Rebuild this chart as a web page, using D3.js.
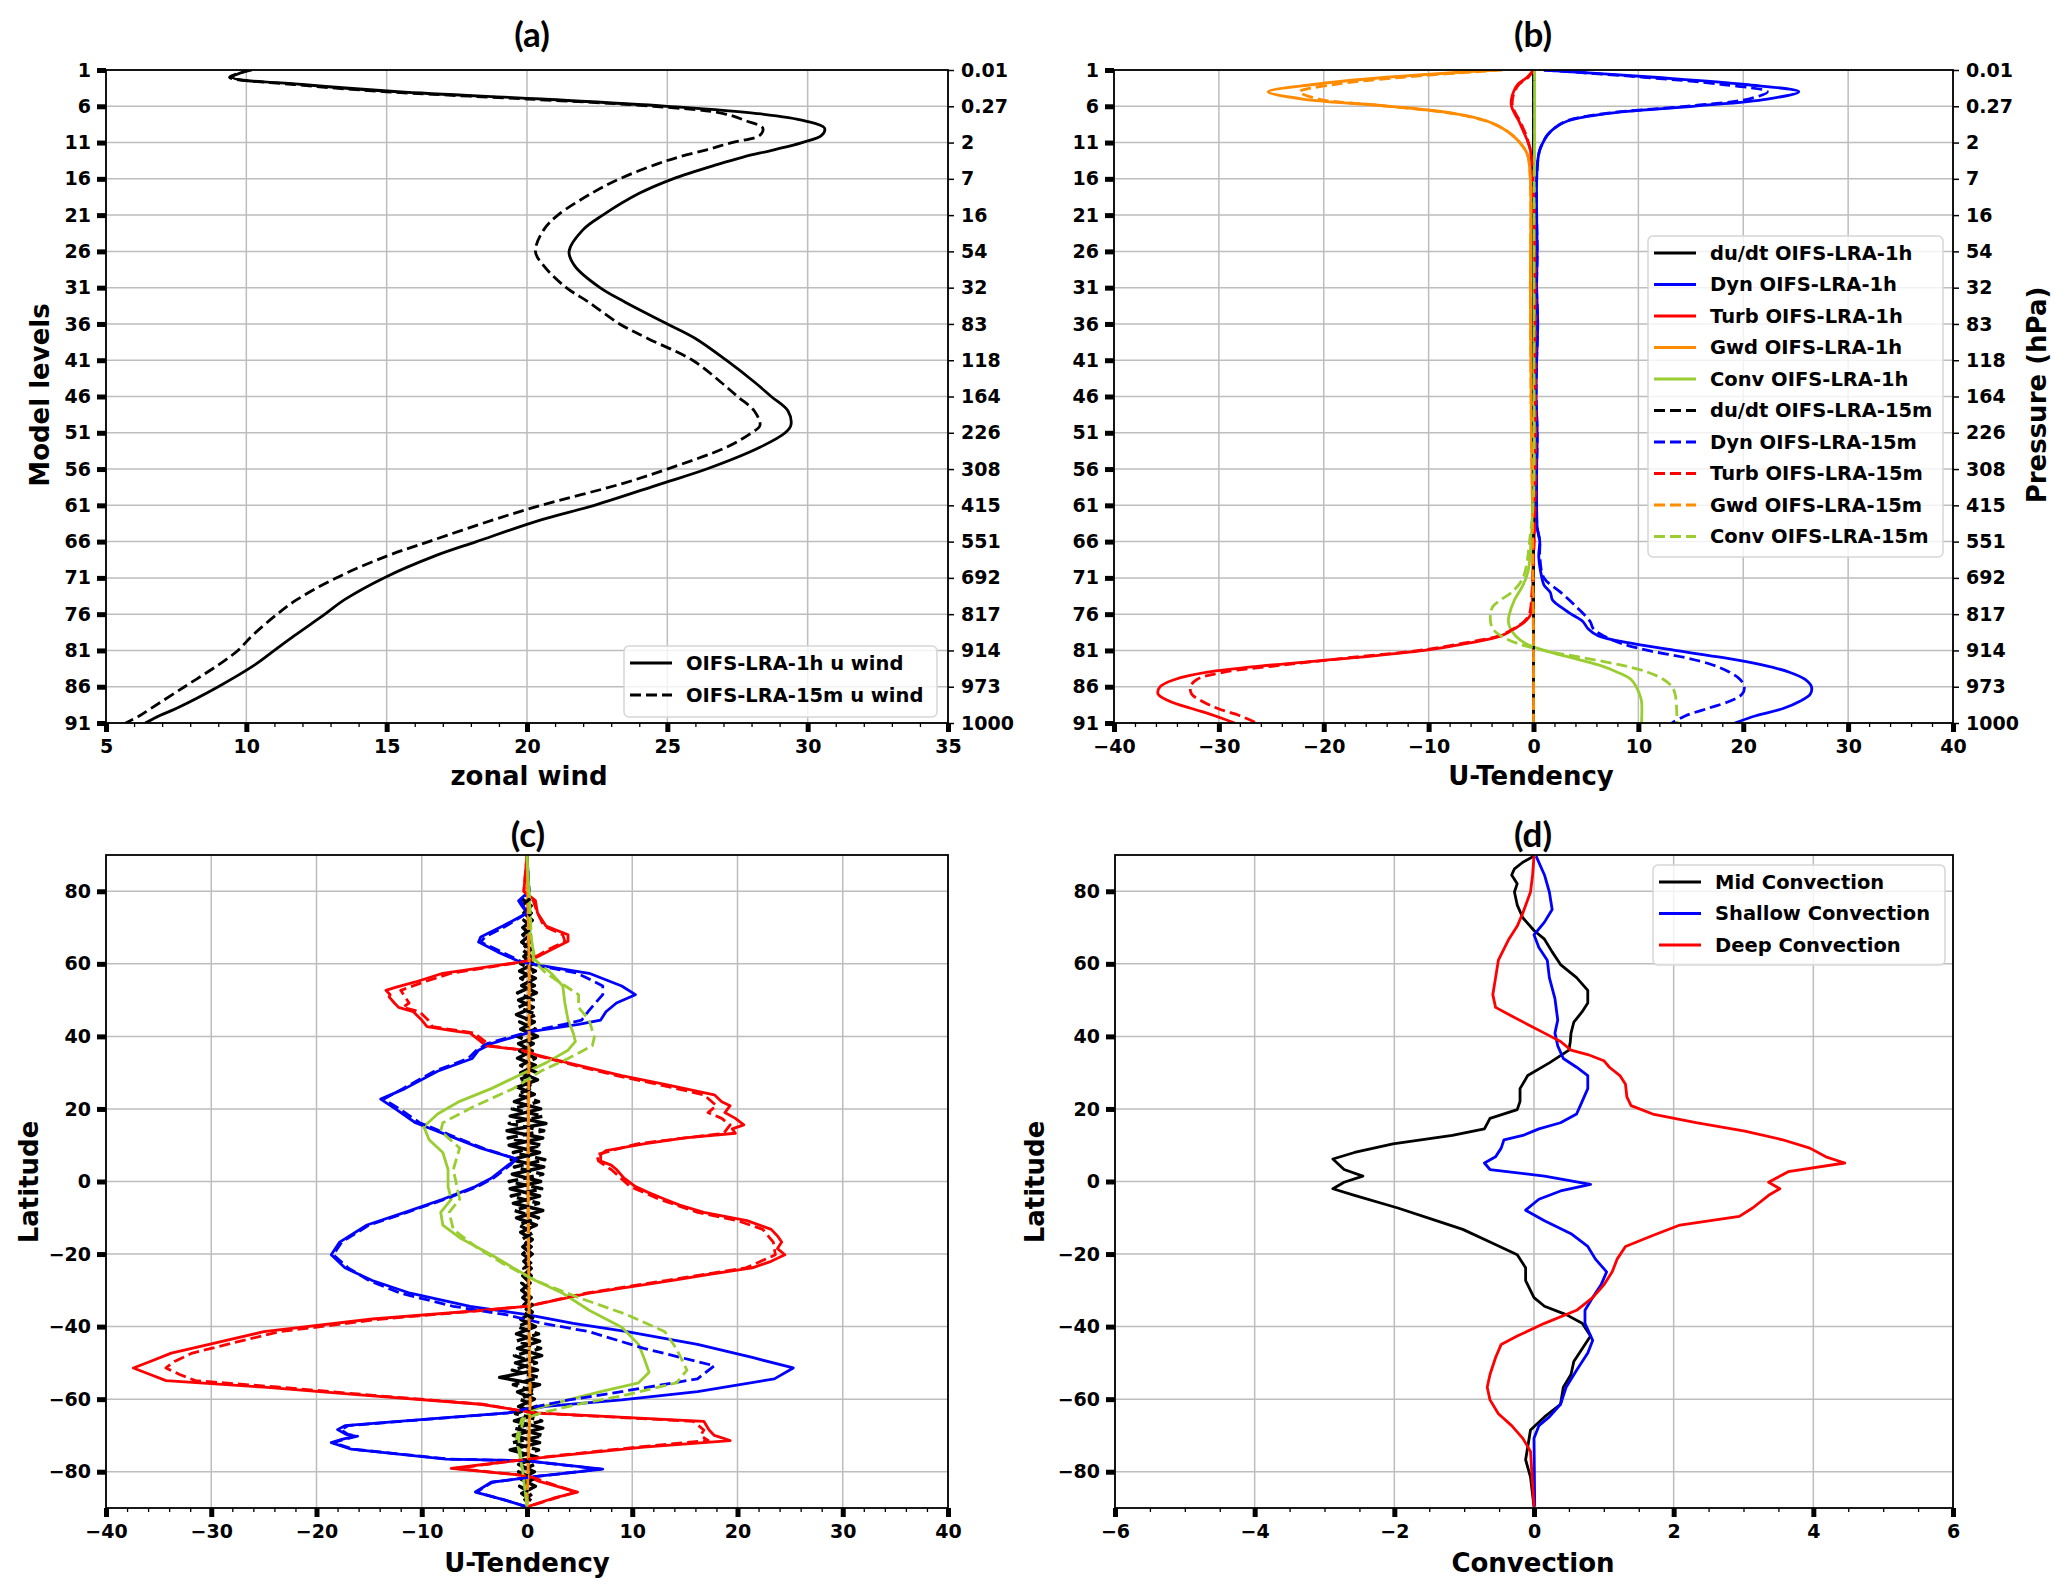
<!DOCTYPE html>
<html lang="en">
<head>
<meta charset="UTF-8">
<title>Zonal wind and U-tendency profiles</title>
<script src="https://d3js.org/d3.v7.min.js"></script>
<style>
  body { margin: 0; background: #fff; }
  text { font-family: "DejaVu Sans", sans-serif; font-weight: bold; fill: #000; }
  .tick text { font-size: 19px; }
  .grid line { stroke: #bdbdbd; stroke-width: 1.5; }
  .axis-title { font-size: 26px; }
  .panel-title { font-family: Lato, "Open Sans", sans-serif; font-size: 35px; }
  .legend text { font-size: 19.5px; }
</style>
</head>
<body>
<svg width="2067" height="1595"></svg>
<script>
// ---------- tick labels ----------
const levelTicks = [1, 6, 11, 16, 21, 26, 31, 36, 41, 46, 51, 56, 61, 66, 71, 76, 81, 86, 91];
const pressureLabels = ["0.01", "0.27", "2", "7", "16", "54", "32", "83", "118", "164",
                        "226", "308", "415", "551", "692", "817", "914", "973", "1000"];
const latTicks = [-80, -60, -40, -20, 0, 20, 40, 60, 80];

// ---------- (a) zonal wind vs model level ----------
const levA = [1, 2, 3, 4, 5, 6, 7, 8, 9, 10, 11, 12, 13, 14, 16, 18, 21, 23, 26, 28, 31, 33, 36, 38, 41, 44,
              46, 48, 50, 51, 53, 56, 58, 61, 63, 66, 68, 71, 74, 76, 79, 81, 83, 86, 89, 90, 91];
const uWind1h = [10.1, 9.5, 12.0, 15.4, 20.5, 25.0, 28.2, 29.9, 30.6, 30.5, 29.8, 28.8, 27.7, 26.8, 25.2, 24.0,
                 22.7, 22.0, 21.5, 21.7, 22.6, 23.5, 25.0, 26.0, 27.1, 28.1, 28.7, 29.3, 29.4, 29.2, 28.3, 26.4,
                 24.8, 22.4, 20.5, 18.2, 16.7, 14.9, 13.5, 12.8, 11.7, 11.0, 10.3, 9.0, 7.5, 6.9, 6.4];
const uWind15m = [10.2, 9.4, 11.7, 15.0, 20.0, 24.5, 27.0, 27.8, 28.4, 28.3, 27.3, 26.4, 25.4, 24.6, 23.3, 22.3,
                  21.1, 20.6, 20.3, 20.6, 21.4, 22.2, 23.3, 24.3, 25.9, 26.9, 27.5, 28.1, 28.3, 28.0, 27.1, 25.0,
                  23.4, 20.5, 18.8, 16.5, 15.0, 13.2, 11.8, 11.1, 10.2, 9.7, 9.0, 7.8, 6.6, 6.2, 5.7];

// ---------- (b) u-tendency vs model level, [level, value] ----------
const dudt1hB = [[1, 0], [91, 0]];
const dudt15mB = [[1, 0], [91, 0]];
const dyn1hB = [[1, 1.0], [2, 11.5], [3, 20.2], [4, 25.3], [5, 22.3], [6, 15.2], [7, 7.0], [8, 3.3], [9, 2.0],
  [10, 1.3], [11, 0.9], [12, 0.6], [13, 0.45], [16, 0.3], [21, 0.3], [26, 0.35], [31, 0.3], [36, 0.4], [41, 0.3],
  [46, 0.25], [51, 0.35], [56, 0.3], [61, 0.3], [64, 0.35], [66, 0.6], [68, 0.5], [71, 0.8], [72, 1.0], [73, 1.6],
  [74, 1.8], [75, 2.6], [76, 3.6], [77, 4.7], [78, 5.2], [79, 6.2], [80, 9.3], [81, 13.5], [82, 18.1], [83, 21.8],
  [84, 24.4], [85, 25.9], [86, 26.5], [87, 26.4], [88, 25.4], [89, 23.8], [90, 21.2], [91, 19.2]];
const dyn15mB = [[1, 1.0], [2, 10.5], [3, 18.0], [4, 22.3], [5, 20.5], [6, 14.5], [7, 6.8], [8, 3.2], [9, 2.0],
  [10, 1.3], [11, 0.9], [12, 0.6], [13, 0.45], [16, 0.3], [21, 0.3], [26, 0.35], [31, 0.3], [36, 0.4], [41, 0.3],
  [46, 0.25], [51, 0.35], [56, 0.3], [61, 0.3], [64, 0.35], [66, 0.6], [68, 0.6], [71, 1.0], [73, 2.6], [75, 4.1],
  [77, 5.4], [78, 5.7], [79, 6.7], [80, 8.3], [81, 10.9], [82, 14.5], [83, 17.1], [84, 18.7], [85, 19.7],
  [86, 20.1], [87, 19.9], [88, 18.7], [89, 16.6], [90, 14.5], [91, 13.2]];
const turb1hB = [[1, 0], [2, -0.6], [3, -1.5], [4, -1.9], [5, -2.1], [6, -2.1], [7, -1.8], [8, -1.4], [9, -1.1],
  [10, -0.8], [11, -0.5], [12, -0.3], [14, -0.15], [20, 0.05], [30, 0.15], [40, 0.15], [50, 0.2], [60, 0.15],
  [66, 0.05], [70, -0.05], [73, -0.1], [76, -0.26], [77, -0.8], [78, -1.8], [79, -3.1], [80, -6.2], [81, -10.4],
  [82, -17.1], [83, -24.9], [84, -31.1], [85, -34.2], [86, -35.6], [87, -35.8], [88, -34.7], [89, -32.6],
  [90, -30.4], [91, -28.5]];
const turb15mB = [[1, 0], [2, -0.5], [3, -1.4], [4, -1.8], [5, -2.0], [6, -2.0], [7, -1.7], [8, -1.3], [9, -1.0],
  [10, -0.7], [11, -0.5], [12, -0.3], [14, -0.15], [20, 0.05], [30, 0.15], [40, 0.15], [50, 0.2], [60, 0.15],
  [66, 0.05], [70, -0.05], [73, -0.15], [76, -0.4], [77, -0.9], [78, -1.9], [79, -3.3], [80, -6.7], [81, -10.9],
  [82, -17.6], [83, -23.8], [84, -29.5], [85, -32.1], [86, -32.7], [87, -32.6], [88, -31.6], [89, -30.1],
  [90, -28.0], [91, -26.4]];
const gwd1hB = [[1, -3.5], [2, -14.0], [3, -21.0], [4, -25.3], [5, -22.0], [6, -13.7], [7, -7.5], [8, -4.5],
  [9, -3.0], [10, -2.0], [11, -1.3], [12, -0.8], [13, -0.5], [16, -0.3], [21, -0.25], [31, -0.3], [41, -0.25],
  [51, -0.2], [61, -0.1], [71, -0.05], [81, 0], [91, 0]];
const gwd15mB = [[1, -3.0], [2, -12.5], [3, -19.0], [4, -22.3], [5, -20.5], [6, -13.8], [7, -7.6], [8, -4.6],
  [9, -3.0], [10, -2.0], [11, -1.3], [12, -0.8], [13, -0.5], [16, -0.3], [21, -0.25], [31, -0.3], [41, -0.25],
  [51, -0.2], [61, -0.1], [71, -0.05], [81, 0], [91, 0]];
const conv1hB = [[1, 0.1], [10, 0.1], [20, 0.05], [40, 0.05], [60, 0], [65, -0.2], [70, -0.5], [72, -1.0],
  [74, -1.8], [76, -2.3], [77, -2.4], [78, -2.2], [79, -1.7], [80, -0.8], [81, 1.0], [82, 3.6], [83, 6.2],
  [84, 8.0], [85, 9.3], [86, 9.8], [87, 10.1], [88, 10.3], [91, 10.3]];
const conv15mB = [[1, 0.1], [10, 0.1], [20, 0.05], [40, 0.05], [60, 0], [65, -0.3], [71, -1.0], [73, -2.1],
  [74, -3.1], [75, -3.9], [76, -4.1], [77, -4.1], [78, -3.9], [79, -3.1], [80, -1.6], [81, 1.0], [82, 4.7],
  [83, 8.3], [84, 10.9], [85, 12.4], [86, 13.2], [87, 13.5], [88, 13.6], [91, 13.7]];

// ---------- (c) u-tendency vs latitude, [lat, value] ----------
const dudt1hC = [[78, -0.5], [76, 0.4], [74, -0.3], [72, 0.5], [70, -0.4], [68, 0.3], [66, -0.5], [64, 0.4],
  [62, -0.3], [60, 0.6], [58, -0.7], [56, 0.8], [54, -0.5], [52, 0.9], [50, -0.8], [48, 0.6], [46, -1.0],
  [44, 0.7], [42, -0.6], [40, 1.0], [38, -0.8], [36, 0.5], [34, -0.9], [32, 0.8], [30, -0.6], [28, 1.0],
  [26, -0.9], [24, 0.7], [22, -1.2], [20, 1.3], [18, -1.6], [16, 1.8], [14, -1.9], [12, 1.5], [10, -1.7],
  [8, 1.2], [6, -1.5], [4, 1.6], [2, -1.4], [0, 1.3], [-2, -1.6], [-4, 1.2], [-6, -1.3], [-8, 1.5], [-10, -1.0],
  [-12, 0.9], [-14, -0.6], [-16, 0.5], [-18, -0.4], [-20, 0.5], [-22, -0.3], [-24, 0.4], [-26, -0.4],
  [-28, 0.3], [-30, -0.5], [-32, 0.4], [-34, -0.3], [-36, 0.5], [-38, -0.6], [-40, 0.8], [-42, -1.0],
  [-44, 1.2], [-46, -0.9], [-48, 1.4], [-50, -1.1], [-52, 1.0], [-54, -2.6], [-56, 1.2], [-58, -0.9],
  [-60, 0.7], [-62, -0.8], [-64, 1.0], [-66, -1.2], [-68, 1.5], [-70, -1.3], [-72, 1.2], [-74, -1.6],
  [-76, 1.0], [-78, -0.8], [-80, 0.7], [-82, -0.6], [-84, 0.8], [-86, -0.5], [-88, 0.4]];
const dudt15mC = [[78, 0.3], [76, -0.5], [74, 0.4], [72, -0.3], [70, 0.5], [68, -0.4], [66, 0.3], [64, -0.5],
  [62, 0.4], [60, -0.6], [58, 0.8], [56, -0.6], [54, 0.7], [52, -0.9], [50, 0.6], [48, -0.8], [46, 0.9],
  [44, -0.7], [42, 0.8], [40, -0.9], [38, 0.6], [36, -0.7], [34, 0.8], [32, -0.6], [30, 0.9], [28, -0.8],
  [26, 0.6], [24, -0.9], [22, 1.1], [20, -1.4], [18, 1.5], [16, -1.7], [14, 1.6], [12, -1.8], [10, 1.4],
  [8, -1.3], [6, 1.7], [4, -1.2], [2, 1.5], [0, -1.7], [-2, 1.4], [-4, -1.5], [-6, 1.1], [-8, -1.2], [-10, 1.1],
  [-12, -0.8], [-14, 0.6], [-16, -0.5], [-18, 0.4], [-20, -0.4], [-22, 0.5], [-24, -0.3], [-26, 0.4],
  [-28, -0.5], [-30, 0.3], [-32, -0.4], [-34, 0.5], [-36, -0.4], [-38, 0.7], [-40, -0.9], [-42, 1.1],
  [-44, -1.0], [-46, 1.3], [-48, -1.2], [-50, 0.9], [-52, -1.4], [-54, 1.1], [-56, -1.3], [-58, 0.8],
  [-60, -0.7], [-62, 0.9], [-64, -1.1], [-66, 1.4], [-68, -1.2], [-70, 1.5], [-72, -1.4], [-74, 1.1],
  [-76, -0.9], [-78, 0.7], [-80, -0.8], [-82, 0.6], [-84, -0.7], [-86, 0.5], [-88, -0.3]];
const dyn1hC = [[90, 0], [80, 0.2], [77.4, -0.8], [76, -0.5], [74, 0], [70.4, -2.3], [67.4, -4.4], [66, -4.6],
  [63.3, -2.8], [60.7, -0.8], [59.8, 0.8], [57.4, 5.9], [53.9, 9.0], [51.5, 10.3], [49.2, 8.5], [46.8, 7.5],
  [44.5, 7.0], [43.3, 4.9], [41.5, 0.8], [39.8, -1.3], [38, -3.4], [36.2, -4.6], [33.9, -5.2], [30.4, -8.5],
  [25.6, -11.6], [22.7, -13.9], [19.8, -12.4], [16.2, -10.6], [12.7, -7.5], [9.2, -4.4], [6.2, -1.0],
  [4.5, -1.8], [0.9, -3.4], [-1.4, -4.9], [-4.9, -8.0], [-8.5, -11.6], [-12, -15.2], [-16.7, -17.8],
  [-20.2, -18.6], [-23.8, -17.3], [-27.3, -14.7], [-30.8, -11.1], [-34.4, -5.4], [-36.7, 0], [-39.1, 4.4],
  [-41.4, 9.5], [-44.9, 16.2], [-48.5, 21.4], [-51.4, 25.3], [-54.4, 23.5], [-57.9, 16.2], [-60.2, 9.0],
  [-62, 1.8], [-63.8, -1.8], [-65.5, -9.5], [-67.3, -17.3], [-68.4, -18.0], [-69.7, -17.2], [-70.2, -16.3],
  [-71.1, -17.6], [-72, -18.6], [-73.8, -16.7], [-76.5, -7.7], [-77, 0], [-79.3, 7.2], [-81.3, 0.9],
  [-82.9, -3.4], [-85.6, -4.9], [-87.9, -2.0], [-89.7, 0]];
const dyn15mC = [[90, 0], [80, 0.2], [77.4, -0.6], [74, 0], [70.4, -2.0], [67.4, -4.0], [66, -4.4], [63.3, -2.4],
  [60.7, -0.6], [59.8, 0.6], [57.4, 4.8], [53.9, 7.2], [51.5, 7.2], [49.2, 6.5], [46.8, 5.8], [44.5, 5.2],
  [43.3, 3.5], [41.5, 0.5], [39.8, -1.6], [38, -3.8], [36.2, -4.8], [33.9, -5.6], [30.4, -8.8], [25.6, -11.8],
  [22.7, -13.6], [19.8, -12.0], [16.2, -10.2], [12.7, -7.2], [9.2, -4.2], [6.2, -1.0], [4.5, -1.6], [0.9, -3.2],
  [-1.4, -4.7], [-4.9, -7.8], [-8.5, -11.4], [-12, -15.0], [-16.7, -17.6], [-20.2, -18.4], [-23.8, -17.0],
  [-27.3, -15.0], [-30.8, -12.0], [-34.4, -7.0], [-36.7, -2.0], [-39.1, 1.5], [-41.4, 5.9], [-46, 11.1],
  [-50.8, 17.8], [-54.4, 16.2], [-57.9, 9.0], [-60.2, 4.0], [-62, 1.0], [-63.8, -1.8], [-65.5, -9.3],
  [-67.3, -17.0], [-68.4, -17.7], [-69.7, -17.0], [-70.2, -16.1], [-71.1, -17.4], [-72, -18.4], [-73.8, -16.5],
  [-76.5, -7.5], [-77, 0], [-79.3, 7.0], [-81.3, 0.9], [-82.9, -3.3], [-85.6, -4.8], [-87.9, -2.0], [-89.7, 0]];
const turb1hC = [[90, 0], [80, -0.3], [77.4, 0.8], [74, 1.0], [70.4, 1.8], [68, 3.9], [66.2, 3.9], [63.9, 2.3],
  [60.9, 0.3], [59.8, -2.3], [57.4, -8.0], [55, -10.6], [53.5, -12.5], [52.7, -13.4], [51.5, -13.0],
  [50.9, -13.1], [49.2, -12.6], [48, -12.2], [46.8, -10.8], [44.5, -10.0], [42.7, -9.5], [41.5, -7.0],
  [40.9, -5.4], [38.6, -4.4], [37.4, -3.9], [36.6, -1.5], [36.2, -0.3], [35, 0.8], [32.7, 3.9], [29.2, 9.0],
  [26.8, 13.1], [23.9, 17.8], [22, 18.5], [20.9, 19.3], [19, 18.8], [17.4, 19.8], [15.6, 20.6], [14.5, 19.5],
  [13.3, 19.8], [12, 15.0], [10.4, 11.1], [8.5, 7.5], [7.4, 7.0], [5.6, 7.0], [4.5, 8.0], [3.3, 8.5], [1, 9.2],
  [-1.4, 10.3], [-3, 11.5], [-4.9, 13.1], [-6.5, 14.5], [-8.5, 16.8], [-10.8, 20.9], [-13.2, 23.2], [-15, 23.8],
  [-16.7, 24.2], [-18.5, 23.8], [-20.2, 24.5], [-22, 23.2], [-23.8, 21.4], [-25.5, 17.5], [-27.3, 13.7],
  [-30.8, 5.9], [-34.4, 0], [-35.5, -4.4], [-37.9, -14.7], [-41.4, -25.0], [-44.9, -30.2], [-47.3, -33.8],
  [-49.6, -35.8], [-51.4, -37.4], [-53.2, -35.8], [-54.9, -34.3], [-56.7, -25.0], [-59.1, -14.7],
  [-61.4, -4.4], [-63.8, 0.8], [-66.1, 16.8], [-68.5, 17.3], [-70, 17.8], [-71.4, 19.3], [-73.2, 11.1],
  [-75.5, 3.4], [-76.5, 0.1], [-79.1, -7.2], [-81.1, 0], [-82.5, 1.0], [-85.6, 4.8], [-87.3, 2.5], [-89.7, 0]];
const turb15mC = [[90, 0], [80, -0.3], [77.4, 0.6], [74, 1.0], [70.4, 1.6], [68, 3.4], [66.2, 3.6], [63.9, 2.0],
  [60.9, 0.2], [59.8, -2.0], [57.4, -7.2], [55, -9.8], [52.7, -12.0], [50.9, -11.6], [49.2, -11.2], [48, -11.8],
  [46.8, -10.2], [44.5, -9.4], [42.7, -9.0], [40.9, -5.0], [38.6, -4.0], [37.4, -3.5], [36.2, -0.5], [35, 0.6],
  [32.7, 3.6], [29.2, 8.5], [26.8, 12.4], [23.9, 16.8], [20.9, 18.0], [19, 17.2], [17.4, 18.5], [15.6, 19.3],
  [13.3, 18.7], [10.4, 10.5], [7.4, 6.6], [5.6, 6.8], [3.3, 8.0], [-1.4, 9.8], [-4.9, 12.6], [-8.5, 16.2],
  [-10.8, 20.0], [-13.2, 22.4], [-16.7, 23.4], [-20.2, 23.6], [-23.8, 20.8], [-27.3, 13.2], [-30.8, 5.6],
  [-34.4, 0], [-35.5, -4.0], [-37.9, -13.8], [-41.4, -23.5], [-44.9, -28.5], [-47.3, -31.8], [-49.6, -33.5],
  [-51.4, -34.3], [-53.2, -33.0], [-54.9, -31.5], [-56.7, -23.5], [-59.1, -14.0], [-61.4, -4.2], [-63.8, 0.6],
  [-66.1, 15.8], [-68.5, 16.8], [-70, 16.5], [-71.4, 17.2], [-73.2, 10.5], [-75.5, 3.0], [-76.5, 0.1],
  [-79.1, -6.8], [-81.1, 0], [-85.6, 4.6], [-89.7, 0]];
const gwd1hC = [[90, 0], [60, 0.2], [40, 0.2], [0, 0.1], [-40, 0.2], [-60, 0.3], [-90, 0]];
const gwd15mC = [[90, 0], [60, 0.2], [40, 0.2], [0, 0.1], [-40, 0.2], [-60, 0.3], [-90, 0]];
const conv1hC = [[90, 0], [74, 0.3], [68, 0.3], [61, 0.8], [57.4, 2.3], [53.9, 3.4], [49.2, 3.6], [44.5, 3.9],
  [40.9, 4.4], [38.6, 4.6], [36.2, 3.9], [32.7, 1.8], [29.2, -0.8], [25.6, -3.4], [22.1, -6.4], [18.6, -8.5],
  [15.1, -9.8], [11.5, -9.3], [8, -8.0], [3.3, -7.5], [-1.4, -7.5], [-4.9, -7.2], [-8.5, -8.2], [-12, -8.0],
  [-15.5, -6.4], [-20.2, -3.4], [-23.8, -1.3], [-27.3, 0.8], [-30.8, 3.4], [-35.5, 5.9], [-40.2, 9.0],
  [-44.9, 10.6], [-48.5, 11.1], [-52.6, 11.6], [-55.5, 10.6], [-57.9, 7.0], [-60.2, 3.9], [-62.6, 0.8],
  [-65.5, -0.5], [-70.8, -1.0], [-76.7, -0.6], [-82, -0.3], [-89.6, 0]];
const conv15mC = [[90, 0], [74, 0.3], [68, 0.4], [61, 0.6], [57.4, 1.8], [51.5, 4.9], [48, 4.9], [44.5, 5.9],
  [39.8, 6.4], [37.4, 6.2], [33.9, 3.9], [30.4, 1.3], [25.6, -1.3], [20.9, -4.9], [16.2, -8.0], [13.9, -8.2],
  [9.2, -6.4], [3.3, -7.0], [-4.9, -6.4], [-8.5, -7.4], [-13.2, -7.0], [-17.9, -4.9], [-22.6, -2.3],
  [-27.3, 0.8], [-32, 4.9], [-36.7, 9.5], [-41.4, 13.1], [-46.1, 14.2], [-52, 15.2], [-55.5, 14.2],
  [-59.1, 9.0], [-61.4, 4.9], [-63.8, 1.3], [-65.5, -0.3], [-70.8, -0.8], [-89.6, 0]];

// ---------- (d) convection vs latitude, [lat, value] ----------
const midConv = [[89.7, 0], [88, -0.16], [86.2, -0.28], [84.5, -0.32], [82.1, -0.24], [79.8, -0.28],
  [76.2, -0.24], [72.7, -0.16], [69.2, 0], [66.8, 0.15], [63.3, 0.26], [59.8, 0.38], [56.2, 0.61], [52.7, 0.77],
  [49.2, 0.77], [46.8, 0.69], [43.9, 0.57], [40.9, 0.53], [38.6, 0.52], [36.2, 0.5], [32.7, 0.22], [29.2, -0.09],
  [25.6, -0.2], [22.1, -0.2], [19.8, -0.24], [17.4, -0.63], [14.5, -0.71], [12.7, -1.17], [10.4, -2.02],
  [8, -2.57], [6.2, -2.88], [3.3, -2.72], [1.5, -2.45], [-0.2, -2.72], [-2, -2.88], [-3.8, -2.57],
  [-7.3, -1.95], [-10.8, -1.4], [-13.2, -1.02], [-16.7, -0.63], [-20.2, -0.24], [-23.8, -0.12], [-27.3, -0.12],
  [-32, 0], [-34.4, 0.15], [-36.7, 0.46], [-39.1, 0.69], [-42.6, 0.81], [-46.1, 0.69], [-49.6, 0.57],
  [-53.2, 0.53], [-56.7, 0.42], [-61.4, 0.38], [-64.9, 0.15], [-68.5, -0.05], [-73.2, -0.09], [-76.7, -0.12],
  [-81.5, -0.05], [-89.6, 0]];
const shallowConv = [[89.7, 0.03], [84.5, 0.15], [79.8, 0.22], [75, 0.26], [71.5, 0.15], [68, 0], [64.5, 0.07],
  [61, 0.19], [56.2, 0.22], [50.4, 0.3], [44.5, 0.34], [40.9, 0.3], [37.4, 0.34], [33.9, 0.42], [31.5, 0.61],
  [29.2, 0.77], [25.6, 0.77], [22.1, 0.69], [18.6, 0.61], [16.2, 0.38], [14.5, 0.07], [12.7, -0.16],
  [11.5, -0.43], [9.2, -0.47], [6.8, -0.55], [5.1, -0.71], [3.3, -0.63], [1.5, 0.15], [-0.8, 0.81],
  [-2.6, 0.38], [-4.9, 0.07], [-7.9, -0.12], [-10.8, 0.15], [-14.4, 0.53], [-17.9, 0.77], [-21.4, 0.88],
  [-24.9, 1.04], [-28.5, 0.96], [-32, 0.84], [-35.5, 0.73], [-39.1, 0.73], [-43.8, 0.84], [-47.3, 0.77],
  [-52, 0.61], [-56.7, 0.46], [-61.4, 0.38], [-64.9, 0.22], [-67.3, 0.07], [-70.8, 0], [-89.6, 0.01]];
const deepConv = [[89.7, 0], [84.5, -0.02], [79.8, -0.05], [74, -0.16], [70.4, -0.24], [66.8, -0.36],
  [61, -0.51], [56.2, -0.55], [51.5, -0.59], [48, -0.55], [45.6, -0.32], [43.3, -0.09], [40.9, 0.15],
  [38.6, 0.38], [36.2, 0.53], [35, 0.77], [33.3, 1.0], [31.5, 1.08], [29.2, 1.23], [26.8, 1.31], [23.3, 1.33],
  [20.9, 1.39], [18.6, 1.7], [16.2, 2.32], [13.9, 3.02], [11.5, 3.56], [9.2, 3.95], [6.8, 4.18], [5.1, 4.45],
  [2.7, 3.64], [-0.2, 3.36], [-2, 3.52], [-3.8, 3.36], [-7.3, 3.13], [-9.6, 2.94], [-12, 2.09], [-14.9, 1.7],
  [-17.9, 1.31], [-21.4, 1.19], [-24.9, 1.12], [-28.5, 1.0], [-32, 0.84], [-35.5, 0.61], [-39.1, 0.15],
  [-42.6, -0.24], [-44.9, -0.47], [-48.5, -0.55], [-53.2, -0.63], [-56.7, -0.67], [-60.2, -0.63], [-64, -0.51],
  [-67.3, -0.32], [-70.8, -0.16], [-74.4, -0.05], [-89.6, 0]];

// ---------- colours / legend names ----------
const tendNames = ["du/dt", "Dyn", "Turb", "Gwd", "Conv"];
const tendColors = ["#000000", "#0000ff", "#ff0000", "#ff8c00", "#9acd32"];
const convNames = ["Mid Convection", "Shallow Convection", "Deep Convection"];
const convColors = ["#000000", "#0000ff", "#ff0000"];

const svg = d3.select("svg");
let clipCount = 0;

function makePanel(box, xDomain, yDomain, xTicks, yTicks) {
  const x = d3.scaleLinear().domain(xDomain).range([box.x0, box.x1]);
  const y = d3.scaleLinear().domain(yDomain).range([box.y0, box.y1]);
  const g = svg.append("g");

  g.append("g").attr("class", "grid").selectAll("line").data(xTicks).join("line")
    .attr("x1", d => x(d)).attr("x2", d => x(d)).attr("y1", box.y0).attr("y2", box.y1);
  g.append("g").attr("class", "grid").selectAll("line").data(yTicks).join("line")
    .attr("x1", box.x0).attr("x2", box.x1).attr("y1", d => y(d)).attr("y2", d => y(d));

  const id = "clip" + (clipCount++);
  svg.append("clipPath").attr("id", id).append("rect")
    .attr("x", box.x0).attr("y", box.y0).attr("width", box.x1 - box.x0).attr("height", box.y1 - box.y0);
  const plot = g.append("g").attr("clip-path", "url(#" + id + ")");
  return { x, y, g, plot, box };
}

function drawLine(p, pts, color, dashed, curve, width) {
  p.plot.append("path").datum(pts)
    .attr("fill", "none")
    .attr("stroke", color)
    .attr("stroke-width", width || 2.8)
    .attr("stroke-linejoin", "round")
    .attr("stroke-dasharray", dashed ? "11,5" : null)
    .attr("d", d3.line().curve(curve).x(d => p.x(d[1])).y(d => p.y(d[0])));
}

function drawAxes(p, xTicks, xMinor, yTicks, yFormat, rightLabels) {
  const b = p.box;
  const minor = p.g.append("g").attr("transform", "translate(0," + b.y1 + ")")
    .call(d3.axisBottom(p.x).tickValues(xMinor).tickSize(4).tickFormat(""));
  minor.select(".domain").remove();
  minor.selectAll(".tick line").attr("stroke-width", 1.3);

  const gx = p.g.append("g").attr("transform", "translate(0," + b.y1 + ")")
    .call(d3.axisBottom(p.x).tickValues(xTicks).tickSize(9).tickPadding(8).tickFormat(d3.format("d")));
  gx.select(".domain").remove();
  gx.selectAll(".tick line").attr("stroke-width", 5);

  const gy = p.g.append("g").attr("transform", "translate(" + b.x0 + ",0)")
    .call(d3.axisLeft(p.y).tickValues(yTicks).tickSize(9).tickPadding(6).tickFormat(yFormat));
  gy.select(".domain").remove();
  gy.selectAll(".tick line").attr("stroke-width", 5);

  if (rightLabels) {
    const gr = p.g.append("g").attr("transform", "translate(" + b.x1 + ",0)")
      .call(d3.axisRight(p.y).tickValues(yTicks).tickSize(6).tickPadding(7)
        .tickFormat((d, i) => rightLabels[i]));
    gr.select(".domain").remove();
    gr.selectAll(".tick line").attr("stroke-width", 1.5);
  }

  p.g.append("rect")
    .attr("x", b.x0).attr("y", b.y0).attr("width", b.x1 - b.x0).attr("height", b.y1 - b.y0)
    .attr("fill", "none").attr("stroke", "#000").attr("stroke-width", 1.8);
}

function drawLegend(box, rows, rowGap) {
  const lg = svg.append("g").attr("class", "legend");
  lg.append("rect")
    .attr("x", box.x0).attr("y", box.y0).attr("width", box.x1 - box.x0).attr("height", box.y1 - box.y0)
    .attr("rx", 5).attr("fill", "#fff").attr("fill-opacity", 0.8)
    .attr("stroke", "#d6d6d6").attr("stroke-width", 1.5);
  rows.forEach((r, i) => {
    const cy = box.first + i * rowGap;
    lg.append("line")
      .attr("x1", box.x0 + 6).attr("x2", box.x0 + 48).attr("y1", cy).attr("y2", cy)
      .attr("stroke", r.color).attr("stroke-width", 3)
      .attr("stroke-dasharray", r.dashed ? "11,5" : null);
    lg.append("text")
      .attr("x", box.x0 + 62).attr("y", cy).attr("dominant-baseline", "central")
      .text(r.label);
  });
}

function addText(txt, x, y, cls, rotate) {
  const t = svg.append("text").attr("class", cls)
    .attr("text-anchor", "middle").attr("dominant-baseline", "central")
    .attr("x", x).attr("y", y).text(txt);
  if (rotate) t.attr("transform", "rotate(-90," + x + "," + y + ")");
}

const tendTicks = d3.range(-40, 41, 10);
const tendMinor = d3.range(-40, 41, 2);

// ----- panel (a) -----
const boxA = { x0: 106, x1: 948, y0: 70, y1: 723 };
const pA = makePanel(boxA, [5, 35], [1, 91], d3.range(5, 36, 5), levelTicks);
drawLine(pA, levA.map((l, i) => [l, uWind1h[i]]), "#000", false, d3.curveCatmullRom);
drawLine(pA, levA.map((l, i) => [l, uWind15m[i]]), "#000", true, d3.curveCatmullRom);
drawAxes(pA, d3.range(5, 36, 5), d3.range(5, 36, 1), levelTicks, d3.format("d"), pressureLabels);
drawLegend({ x0: 624, x1: 937, y0: 646, y1: 717, first: 663 },
  [{ label: "OIFS-LRA-1h u wind", color: "#000", dashed: false },
   { label: "OIFS-LRA-15m u wind", color: "#000", dashed: true }], 32);
addText("(a)", 532, 33, "panel-title");
addText("zonal wind", 529, 776, "axis-title");
addText("Model levels", 40, 395, "axis-title", true);

// ----- panel (b) -----
const boxB = { x0: 1114, x1: 1953, y0: 70, y1: 723 };
const pB = makePanel(boxB, [-40, 40], [1, 91], tendTicks, levelTicks);
const seriesB1h = [dudt1hB, dyn1hB, turb1hB, gwd1hB, conv1hB];
const seriesB15m = [dudt15mB, dyn15mB, turb15mB, gwd15mB, conv15mB];
seriesB1h.forEach((s, i) => drawLine(pB, s, tendColors[i], false, d3.curveCatmullRom));
seriesB15m.forEach((s, i) => drawLine(pB, s, tendColors[i], true, d3.curveCatmullRom));
drawAxes(pB, tendTicks, tendMinor, levelTicks, d3.format("d"), pressureLabels);
drawLegend({ x0: 1648, x1: 1943, y0: 236, y1: 557, first: 253 },
  tendNames.map((n, i) => ({ label: n + " OIFS-LRA-1h", color: tendColors[i], dashed: false }))
    .concat(tendNames.map((n, i) => ({ label: n + " OIFS-LRA-15m", color: tendColors[i], dashed: true }))),
  31.5);
addText("(b)", 1533, 33, "panel-title");
addText("U-Tendency", 1531, 776, "axis-title");
addText("Pressure (hPa)", 2037, 395, "axis-title", true);

// ----- panel (c) -----
const boxC = { x0: 106, x1: 948, y0: 855, y1: 1508 };
const pC = makePanel(boxC, [-40, 40], [90, -90], tendTicks, latTicks);
const seriesC1h = [dudt1hC, dyn1hC, turb1hC, gwd1hC, conv1hC];
const seriesC15m = [dudt15mC, dyn15mC, turb15mC, gwd15mC, conv15mC];
seriesC1h.forEach((s, i) => drawLine(pC, s, tendColors[i], false, d3.curveLinear, i === 0 ? 3.4 : 2.8));
seriesC15m.forEach((s, i) => drawLine(pC, s, tendColors[i], true, d3.curveLinear, i === 0 ? 3.4 : 2.8));
drawAxes(pC, tendTicks, tendMinor, latTicks, d3.format("d"), null);
addText("(c)", 528, 833, "panel-title");
addText("U-Tendency", 527, 1563, "axis-title");
addText("Latitude", 29, 1182, "axis-title", true);

// ----- panel (d) -----
const boxD = { x0: 1115, x1: 1953, y0: 855, y1: 1508 };
const convTicks = d3.range(-6, 7, 2);
const pD = makePanel(boxD, [-6, 6], [90, -90], convTicks, latTicks);
[midConv, shallowConv, deepConv].forEach((s, i) => drawLine(pD, s, convColors[i], false, d3.curveLinear));
drawAxes(pD, convTicks, d3.range(-6, 6.01, 0.5), latTicks, d3.format("d"), null);
drawLegend({ x0: 1653, x1: 1945, y0: 865, y1: 965, first: 882 },
  convNames.map((n, i) => ({ label: n, color: convColors[i], dashed: false })), 31.5);
addText("(d)", 1533, 833, "panel-title");
addText("Convection", 1533, 1563, "axis-title");
addText("Latitude", 1035, 1182, "axis-title", true);
</script>
</body>
</html>
